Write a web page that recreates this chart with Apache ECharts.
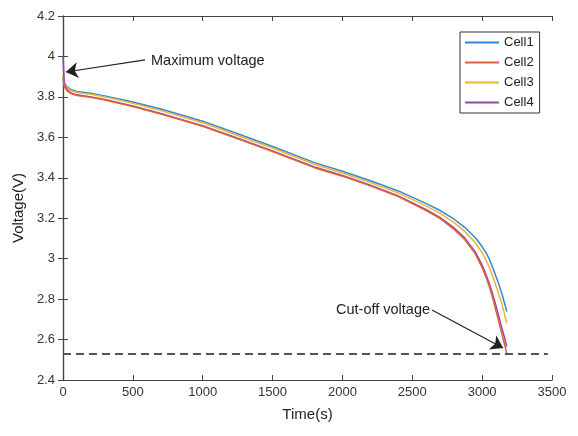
<!DOCTYPE html>
<html>
<head>
<meta charset="utf-8">
<script src="https://cdn.jsdelivr.net/npm/echarts@6/dist/echarts.min.js"></script>
<style>
  html, body { margin: 0; padding: 0; background: #fff; }
  #main { width: 578px; height: 436px; }
</style>
</head>
<body>
<div id="main"></div>
<script>
// time axis (s)
var time = [0, 10, 30, 60, 100, 200, 300, 500, 700, 1000, 1300, 1500, 1800, 2000, 2200, 2400, 2600, 2700, 2800, 2875, 2950, 3000, 3025, 3050, 3075, 3100, 3125, 3140, 3160, 3176];
// voltages (V)
var cell1 = [3.90, 3.87, 3.85, 3.835, 3.827, 3.818, 3.805, 3.775, 3.74, 3.68, 3.605, 3.555, 3.475, 3.432, 3.385, 3.335, 3.272, 3.238, 3.195, 3.155, 3.105, 3.06, 3.032, 3.00, 2.958, 2.91, 2.862, 2.83, 2.78, 2.738];
var cell2 = [3.89, 3.85, 3.83, 3.815, 3.807, 3.798, 3.785, 3.752, 3.715, 3.655, 3.58, 3.53, 3.45, 3.408, 3.36, 3.307, 3.238, 3.198, 3.145, 3.095, 3.025, 2.955, 2.913, 2.865, 2.807, 2.74, 2.673, 2.63, 2.578, 2.532];
var cell3 = [3.90, 3.865, 3.845, 3.83, 3.822, 3.813, 3.80, 3.768, 3.732, 3.672, 3.597, 3.547, 3.467, 3.424, 3.376, 3.325, 3.26, 3.224, 3.178, 3.135, 3.08, 3.03, 2.997, 2.96, 2.915, 2.865, 2.813, 2.78, 2.725, 2.68];
var cell4 = [4.00, 3.86, 3.835, 3.818, 3.81, 3.80, 3.787, 3.755, 3.718, 3.658, 3.583, 3.533, 3.453, 3.411, 3.363, 3.31, 3.242, 3.203, 3.152, 3.103, 3.035, 2.968, 2.926, 2.88, 2.825, 2.765, 2.70, 2.66, 2.61, 2.565];
var cutoff = 2.53;

var names = ['Cell1', 'Cell2', 'Cell3', 'Cell4'];
var colors = ['#2b8ad8', '#e0603a', '#efb52a', '#9448a6'];
var font = 'Liberation Sans, Arial, sans-serif';

function pairs(v) {
  return time.map(function (t, i) { return [t, v[i]]; });
}

var axisCol = '#444';
var series = [cell1, cell2, cell3, cell4].map(function (v, i) {
  return {
    name: names[i],
    type: 'line',
    data: pairs(v),
    symbol: 'none',
    lineStyle: { width: 1.5, color: colors[i] },
    itemStyle: { color: colors[i] },
    z: 3 + (i === 1 ? 1 : 0)
  };
});

// annotations: dashed cut-off line and arrows
series.push({
  name: 'notes',
  type: 'line',
  data: [],
  silent: true,
  markLine: {
    silent: true,
    animation: false,
    label: { show: false },
    data: [
      [{ coord: [0, cutoff], symbol: 'none', lineStyle: { type: [8, 5], color: '#555', width: 1.8 } },
       { coord: [3470, cutoff], symbol: 'none' }],
      [{ coord: [587, 3.983], symbol: 'none', lineStyle: { type: 'solid', color: '#222', width: 1.2 } },
       { coord: [21, 3.923], symbol: 'arrow', symbolSize: 12 }],
      [{ coord: [2641, 2.746], symbol: 'none', lineStyle: { type: 'solid', color: '#222', width: 1.2 } },
       { coord: [3150, 2.558], symbol: 'arrow', symbolSize: 12 }]
    ]
  }
});

var chart = echarts.init(document.getElementById('main'));
chart.setOption({
  animation: false,
  textStyle: { fontFamily: font },
  grid: { left: 63, right: 26, top: 16, bottom: 56 },
  legend: {
    data: names,
    orient: 'vertical',
    left: 460,
    top: 32,
    itemWidth: 34,
    itemHeight: 12,
    itemGap: 7,
    padding: [4, 6, 4, 4],
    borderColor: '#333',
    borderWidth: 1,
    itemStyle: { opacity: 0 },
    textStyle: { fontSize: 13, color: '#222', fontFamily: font }
  },
  xAxis: [{
    type: 'value',
    min: 0, max: 3500, interval: 500,
    name: 'Time(s)',
    nameLocation: 'middle',
    nameGap: 27,
    nameTextStyle: { fontSize: 15, color: '#222' },
    axisLine: { lineStyle: { color: axisCol, width: 1.2 } },
    axisTick: { inside: true, length: 5, lineStyle: { color: axisCol } },
    axisLabel: { fontSize: 13, color: '#333', margin: 6,
      formatter: function (v) { return String(v); } },
    splitLine: { show: false }
  }, {
    type: 'value',
    position: 'top',
    min: 0, max: 3500, interval: 500,
    axisLine: { lineStyle: { color: axisCol, width: 1.2 } },
    axisTick: { inside: true, length: 5, lineStyle: { color: axisCol } },
    axisLabel: { show: false },
    splitLine: { show: false }
  }],
  yAxis: [{
    type: 'value',
    min: 2.4, max: 4.2, interval: 0.2,
    name: 'Voltage(V)',
    nameLocation: 'middle',
    nameGap: 24,
    nameTextStyle: { fontSize: 15, color: '#222', padding: [0, 20, 0, 0] },
    axisLine: { show: true, lineStyle: { color: axisCol, width: 1.2 } },
    axisTick: { show: true, inside: true, length: 5, lineStyle: { color: axisCol } },
    axisLabel: { fontSize: 13, color: '#333', margin: 8,
      formatter: function (v) { return String(Math.round(v * 10) / 10); } },
    splitLine: { show: false }
  }, {
    type: 'value',
    position: 'right',
    min: 2.4, max: 4.2, interval: 0.2,
    axisLine: { show: true, lineStyle: { color: axisCol, width: 1.2 } },
    axisTick: { show: true, inside: true, length: 5, lineStyle: { color: axisCol } },
    axisLabel: { show: false },
    splitLine: { show: false }
  }],
  graphic: [
    { type: 'text', left: 151, top: 53, style: { text: 'Maximum voltage', fontSize: 14.5, fontFamily: font, fill: '#222' } },
    { type: 'text', left: 336, top: 302, style: { text: 'Cut-off voltage', fontSize: 14.5, fontFamily: font, fill: '#222' } }
  ],
  series: series
});
</script>
</body>
</html>
